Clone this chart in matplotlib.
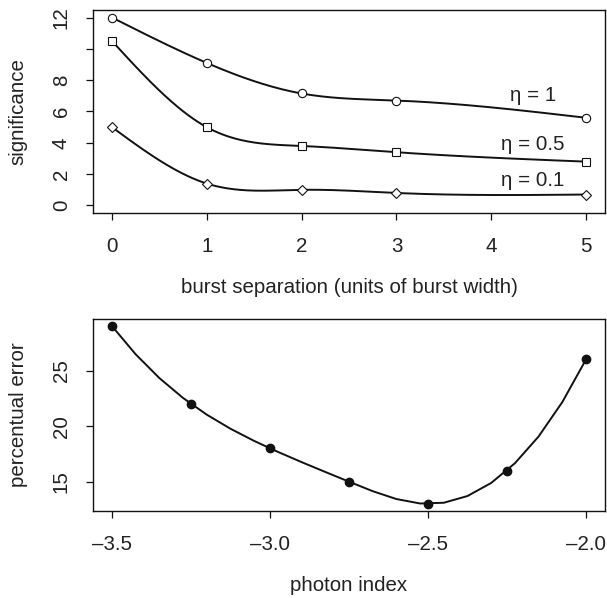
import numpy as np
import matplotlib
matplotlib.use('Agg')
import matplotlib.pyplot as plt

plt.rcParams['font.family'] = ['Liberation Sans', 'DejaVu Sans']

# top panel: significance vs burst separation
separation = [0, 1, 2, 3, 5]
sig_eta1 = [12.0, 9.1, 7.15, 6.7, 5.6]
sig_eta05 = [10.5, 5.0, 3.8, 3.4, 2.8]
sig_eta01 = [5.0, 1.4, 1.0, 0.8, 0.7]
eta_labels = ['η = 1', 'η = 0.5', 'η = 0.1']

# bottom panel: percentual error vs photon index
photon_index = [-3.5, -3.25, -3.0, -2.75, -2.5, -2.25, -2.0]
perc_error = [29.0, 22.0, 18.0, 15.0, 13.0, 16.0, 26.0]


def cubic_spline(x, y, n, ends='fmm'):
    # interpolating cubic spline, end conditions 'fmm' (as R spline()) or 'natural'
    x = np.asarray(x, float)
    y = np.asarray(y, float)
    k = len(x)
    h = np.diff(x)
    d1 = np.diff(y) / h
    d2 = (d1[1:] - d1[:-1]) / (x[2:] - x[:-2])
    d3 = (d2[1:] - d2[:-1]) / (x[3:] - x[:-3])
    A = np.zeros((k, k))
    b = np.zeros(k)
    if ends == 'fmm':
        A[0, 0], A[0, 1] = -1, 1
        b[0] = 6 * h[0] * d3[0]
        A[-1, -2], A[-1, -1] = -1, 1
        b[-1] = 6 * h[-1] * d3[-1]
    else:
        A[0, 0] = 1
        A[-1, -1] = 1
    for i in range(1, k - 1):
        A[i, i - 1] = h[i - 1]
        A[i, i] = 2 * (h[i - 1] + h[i])
        A[i, i + 1] = h[i]
        b[i] = 6 * (d1[i] - d1[i - 1])
    M = np.linalg.solve(A, b)
    xs = np.linspace(x[0], x[-1], n)
    idx = np.clip(np.searchsorted(x, xs, side='right') - 1, 0, k - 2)
    x0, x1 = x[idx], x[idx + 1]
    hh = x1 - x0
    ys = (M[idx] * (x1 - xs) ** 3 / (6 * hh) + M[idx + 1] * (xs - x0) ** 3 / (6 * hh)
          + (y[idx] / hh - M[idx] * hh / 6) * (x1 - xs)
          + (y[idx + 1] / hh - M[idx + 1] * hh / 6) * (xs - x0))
    return xs, ys


txt = '#222222'
fs = 14.8

fig = plt.figure(figsize=(6.07, 5.98), dpi=100)
ax1 = fig.add_axes([0.1532, 0.6438, 0.8435, 0.3395])
ax2 = fig.add_axes([0.1532, 0.1455, 0.8435, 0.3211])

markers = ['o', 's', 'D']
msizes = [6, 5.5, 5.2]
for ys, m, ms in zip([sig_eta1, sig_eta05, sig_eta01], markers, msizes):
    sx, sy = cubic_spline(separation, ys, 200, ends='natural')
    ax1.plot(sx, sy, color='#111111', lw=1.4)
    ax1.plot(separation, ys, linestyle='none', marker=m, ms=ms, mfc='white',
             mec='#111111', mew=0.8)

label_pos = [(4.44, 7.03), (4.44, 3.91), (4.44, 1.61)]
for lab, (lx, ly) in zip(eta_labels, label_pos):
    ax1.text(lx, ly, lab, ha='center', va='center', fontsize=fs, color=txt)

ax1.set_xlim(-0.2, 5.2)
ax1.set_ylim(-0.48, 12.48)
ax1.set_xticks(range(6))
ax1.set_yticks(range(0, 13, 2))
ax1.set_yticklabels(['0', '2', '4', '6', '8', '', '12'])
ax1.set_xlabel('burst separation (units of burst width)', fontsize=fs, color=txt,
               va='center')
ax1.xaxis.set_label_coords(0.5, -0.369)
ax1.set_ylabel('significance', fontsize=fs, color=txt, va='center')
ax1.yaxis.set_label_coords(-0.146, 0.5)

sx, sy = cubic_spline(photon_index, perc_error, 21)
ax2.plot(sx, sy, color='#111111', lw=1.4)
ax2.plot(photon_index, perc_error, linestyle='none', marker='o', ms=6,
         color='#111111')
ax2.set_xlim(-3.56, -1.94)
ax2.set_ylim(12.36, 29.64)
ax2.set_xticks([-3.5, -3.0, -2.5, -2.0])
ax2.set_xticklabels(['\u20133.5', '\u20133.0', '\u20132.5', '\u20132.0'])
ax2.set_yticks([15, 20, 25])
ax2.set_xlabel('photon index', fontsize=fs, color=txt, va='center')
ax2.xaxis.set_label_coords(0.5, -0.39)
ax2.set_ylabel('percentual error', fontsize=fs, color=txt, va='center')
ax2.yaxis.set_label_coords(-0.146, 0.5)

for ax in (ax1, ax2):
    for sp in ax.spines.values():
        sp.set_linewidth(1.0)
        sp.set_color('#111111')
    ax.tick_params(axis='both', direction='out', length=5, width=0.9,
                   color='#111111', labelsize=fs, labelcolor=txt)
    ax.tick_params(axis='x', pad=12.5)
    ax.tick_params(axis='y', pad=11, labelrotation=90)
    for t in ax.get_yticklabels():
        t.set_va('center')

fig.savefig('out.png', dpi=100)
